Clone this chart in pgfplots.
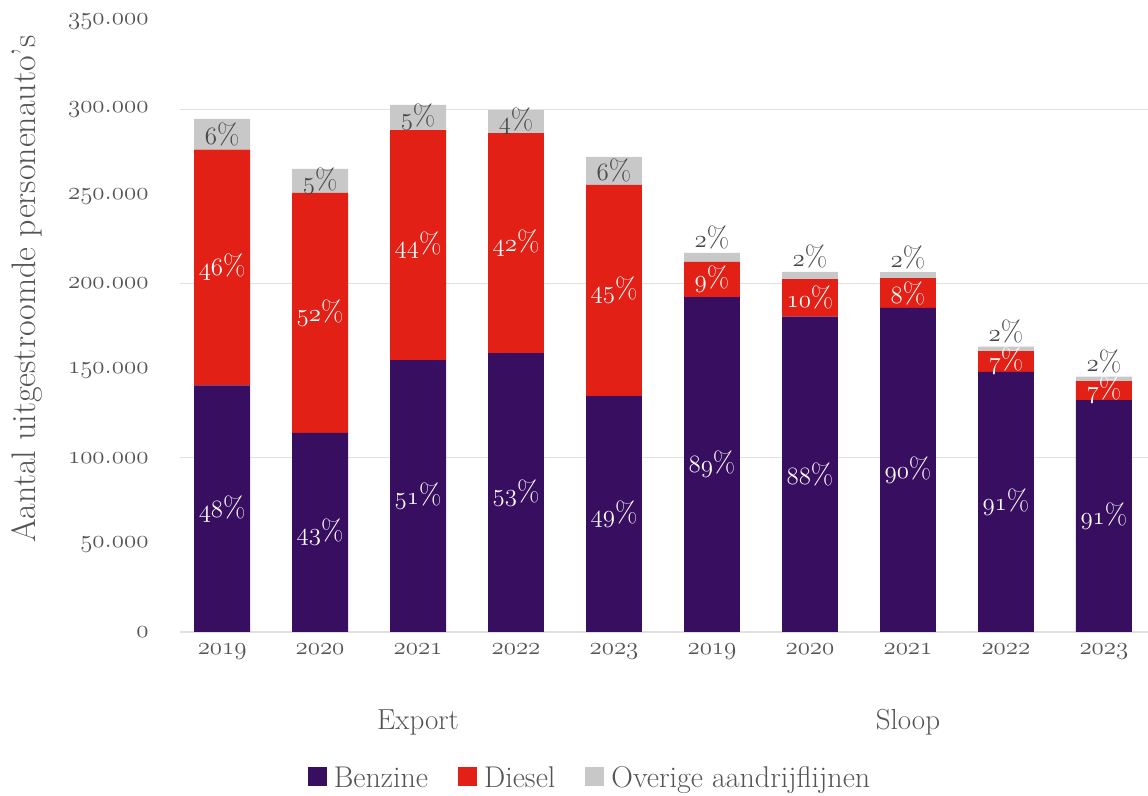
\documentclass[border=0pt]{standalone}
\usepackage{pgfplots}
\pgfplotsset{compat=1.18}
\usepackage{pgfplotstable}
\definecolor{benz}{RGB}{56,14,96}
\definecolor{dies}{RGB}{226,32,22}
\definecolor{over}{RGB}{200,200,200}
\definecolor{txt}{RGB}{85,85,85}
\definecolor{ovtxt}{RGB}{70,70,70}
\newcommand{\osn}[1]{\ensuremath{\mathnormal{#1}}}
\newcommand{\bigf}{\fontsize{29}{33}\selectfont}
\pgfplotstableread{
x b d g bl dl gl ab
0 141.5 135.3 17.6 48 46 6 0
1 114.2 137.7 13.8 43 52 5 0
2 156.0 132.0 14.5 51 44 5 0
3 160.0 126.3 13.2 53 42 4 0
4 135.4 121.1 16.1 49 45 6 0
5 192.2 20.1 5.2 89 9 2 1
6 181.0 21.5 4.1 88 10 2 1
7 186.0 17.0 3.5 90 8 2 1
8 149.2 12.0 2.5 91 7 2 1
9 133.1 10.9 2.5 91 7 2 1
}\data
\begin{document}
\begin{tikzpicture}
\begin{axis}[
  scale only axis, width=968pt, height=610pt,
  ybar stacked, bar width=0.57,
  xmin=-0.43, xmax=9.45, ymin=0, ymax=350,
  axis line style={draw=none},
  major tick length=0pt,
  xtick={0,...,9},
  xticklabels={\osn{2019},\osn{2020},\osn{2021},\osn{2022},\osn{2023},\osn{2019},\osn{2020},\osn{2021},\osn{2022},\osn{2023}},
  ytick={0,50,...,350},
  yticklabels={\osn{0},\osn{50}.\osn{000},\osn{100}.\osn{000},\osn{150}.\osn{000},\osn{200}.\osn{000},\osn{250}.\osn{000},\osn{300}.\osn{000},\osn{350}.\osn{000}},
  extra y ticks={0,100,200,300},
  extra y tick labels={,,,},
  extra y tick style={grid=major, major grid style={draw=black!12, line width=1.2pt}},
  extra x ticks={2,7},
  extra x tick labels={Export,Sloop},
  extra x tick style={tick label style={yshift=-66pt}},
  tick label style={font=\bigf, text=txt},
  yticklabel style={xshift=-28pt},
  xticklabel style={yshift=-8pt},
  ylabel={Aantal uitgestroomde personenauto's},
  ylabel style={at={(axis description cs:-0.158,0.5623)}, anchor=center, font=\fontsize{34}{38}\selectfont, text=txt},
  legend style={at={(0.4236,-0.2393)}, anchor=center, draw=none, fill=none, legend columns=-1, font=\fontsize{30}{34}\selectfont, text=txt,
    /tikz/every odd column/.append style={column sep=5pt},
    /tikz/every even column/.append style={column sep=28pt}},
  legend image code/.code={\path[#1,draw=none] (0pt,-8pt) rectangle (19pt,11pt);},
  point meta=explicit symbolic,
  nodes near coords={\osn{\pgfplotspointmeta}\%},
  every node near coord/.append style={font=\bigf, anchor=center},
]
\addplot[fill=benz, draw=none,
  nodes near coords style={text=white}]
  table[x=x, y=b, meta=bl] {\data};
\addlegendentry{Benzine}
\addplot[fill=dies, draw=none,
  nodes near coords style={text=white}]
  table[x=x, y=d, meta=dl] {\data};
\addlegendentry{Diesel}
\addplot[fill=over, draw=none,
  nodes near coords style={text=ovtxt},
  visualization depends on={\thisrow{g} \as \segh},
  visualization depends on={\thisrow{ab} \as \abv},
  every node near coord/.append style={yshift={\abv*(\segh*0.871429+15)*1pt}}]
  table[x=x, y=g, meta=gl] {\data};
\addlegendentry{Overige aandrijflijnen}
\end{axis}
\pgfresetboundingbox
\path[use as bounding box] ([xshift=-180pt,yshift=-164pt]current axis.south west) rectangle ([yshift=22pt]current axis.north east);
\end{tikzpicture}
\end{document}
